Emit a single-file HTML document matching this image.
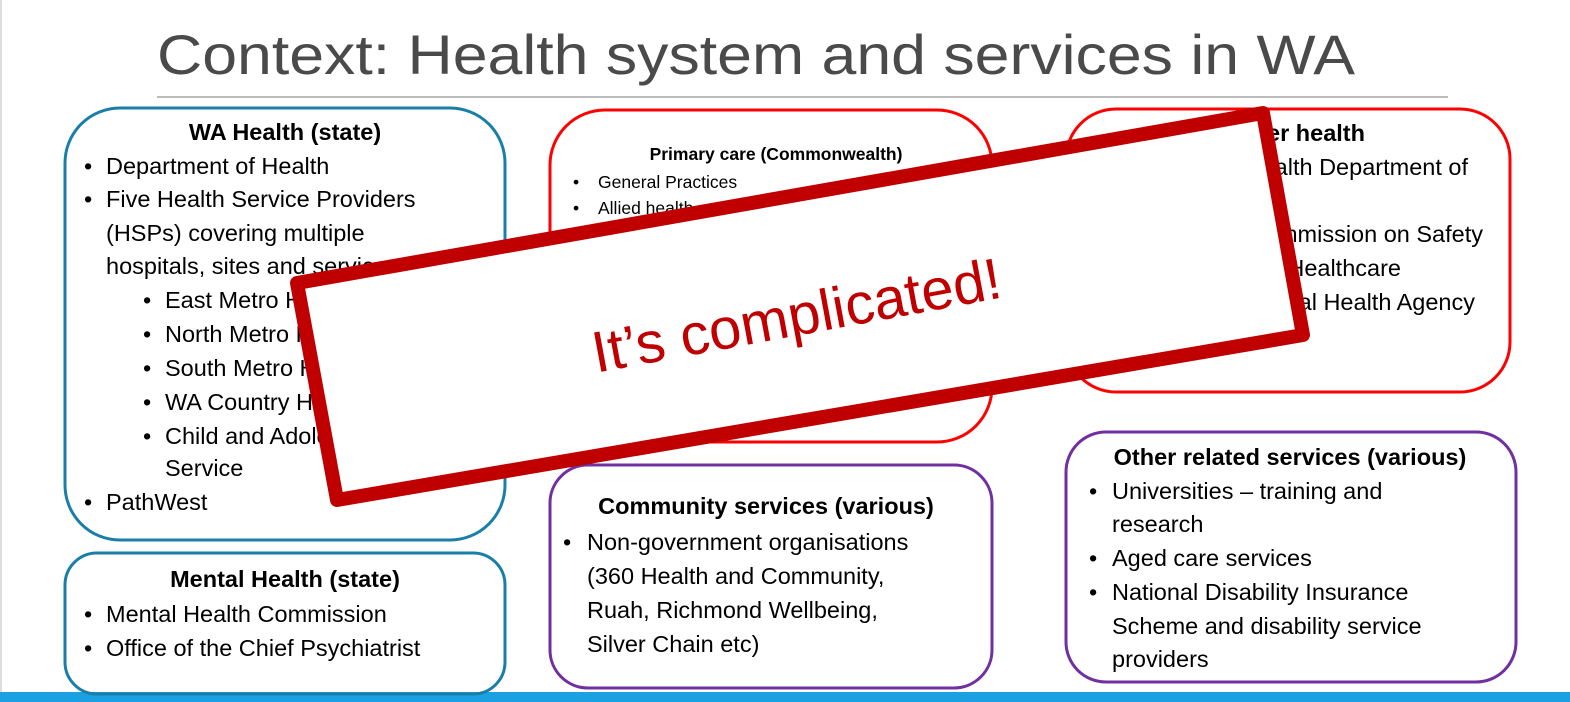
<!DOCTYPE html>
<html><head><meta charset="utf-8"><style>
html,body{margin:0;padding:0;background:#fff;width:1570px;height:702px;overflow:hidden}
svg text{font-family:"Liberation Sans",sans-serif;fill:#000}
.b{font-weight:bold}
</style></head><body>
<svg width="1570" height="702" viewBox="0 0 1570 702" xmlns="http://www.w3.org/2000/svg">
<rect x="0" y="0" width="1570" height="702" fill="#fff"/>
<line x1="1" y1="0" x2="1" y2="692" stroke="#ddd" stroke-width="2"/>
<rect x="0" y="692" width="1570" height="10" fill="#1ba1e2"/>
<text x="157" y="74" font-size="56" style="fill:#4a4a4a" textLength="1198" lengthAdjust="spacingAndGlyphs">Context: Health system and services in WA</text>
<line x1="157" y1="97" x2="1448" y2="97" stroke="#a6a6a6" stroke-width="1.5"/>

<rect x="65" y="108" width="440" height="432" rx="55" fill="none" stroke="#1a7fa8" stroke-width="3"/>
<rect x="65" y="553" width="440" height="141" rx="32" fill="none" stroke="#1a7fa8" stroke-width="3"/>
<rect x="550" y="110" width="442" height="332" rx="55" fill="none" stroke="#ff0000" stroke-width="3"/>
<rect x="1066" y="109" width="444" height="283" rx="50" fill="none" stroke="#ff0000" stroke-width="3"/>
<rect x="550" y="465" width="442" height="223" rx="38" fill="none" stroke="#7030a0" stroke-width="3"/>
<rect x="1066" y="432" width="450" height="250" rx="40" fill="none" stroke="#7030a0" stroke-width="3"/>

<g font-size="23.5">
<text x="285" y="140" text-anchor="middle" class="b">WA Health (state)</text>
<text x="84" y="174">•</text><text x="106" y="174">Department of Health</text>
<text x="84" y="207">•</text><text x="106" y="207">Five Health Service Providers</text>
<text x="106" y="241">(HSPs) covering multiple</text>
<text x="106" y="274">hospitals, sites and services</text>
<text x="143" y="308">•</text><text x="165" y="308">East Metro HS</text>
<text x="143" y="342">•</text><text x="165" y="342">North Metro HS</text>
<text x="143" y="376">•</text><text x="165" y="376">South Metro HS</text>
<text x="143" y="410">•</text><text x="165" y="410">WA Country HS</text>
<text x="143" y="444">•</text><text x="165" y="444">Child and Adolescent Health</text>
<text x="165" y="476">Service</text>
<text x="84" y="510">•</text><text x="106" y="510">PathWest</text>

<text x="285" y="587" text-anchor="middle" class="b">Mental Health (state)</text>
<text x="84" y="622">•</text><text x="106" y="622">Mental Health Commission</text>
<text x="84" y="656">•</text><text x="106" y="656">Office of the Chief Psychiatrist</text>

<text x="766" y="514" text-anchor="middle" class="b">Community services (various)</text>
<text x="563" y="550">•</text><text x="587" y="550">Non-government organisations</text>
<text x="587" y="584">(360 Health and Community,</text>
<text x="587" y="618">Ruah, Richmond Wellbeing,</text>
<text x="587" y="652">Silver Chain etc)</text>

<text x="1290" y="465" text-anchor="middle" class="b">Other related services (various)</text>
<text x="1089" y="499">•</text><text x="1112" y="499">Universities – training and</text>
<text x="1112" y="532">research</text>
<text x="1089" y="566">•</text><text x="1112" y="566">Aged care services</text>
<text x="1089" y="600">•</text><text x="1112" y="600">National Disability Insurance</text>
<text x="1112" y="634">Scheme and disability service</text>
<text x="1112" y="667">providers</text>

<text x="1365" y="141" text-anchor="end" class="b">Other health</text>
<text x="1468" y="175" text-anchor="end">Commonwealth Department of</text>
<text x="1483" y="242" text-anchor="end">Australian Commission on Safety</text>
<text x="1401" y="276" text-anchor="end">and Quality in Healthcare</text>
<text x="1475" y="310" text-anchor="end">Australian Digital Health Agency</text>
</g>

<g font-size="17.5">
<text x="776" y="160" text-anchor="middle" class="b">Primary care (Commonwealth)</text>
<text x="573" y="188">•</text><text x="598" y="188">General Practices</text>
<text x="573" y="214">•</text><text x="598" y="214">Allied health</text>
</g>

<polygon points="297,283 1263,113 1303,335 337,500" fill="#fff" stroke="#c00000" stroke-width="14" stroke-linejoin="round"/>
<text x="0" y="0" font-size="58" text-anchor="middle" style="fill:#c00000" transform="translate(800,335) rotate(-10.5)">It’s complicated!</text>
</svg>
</body></html>
